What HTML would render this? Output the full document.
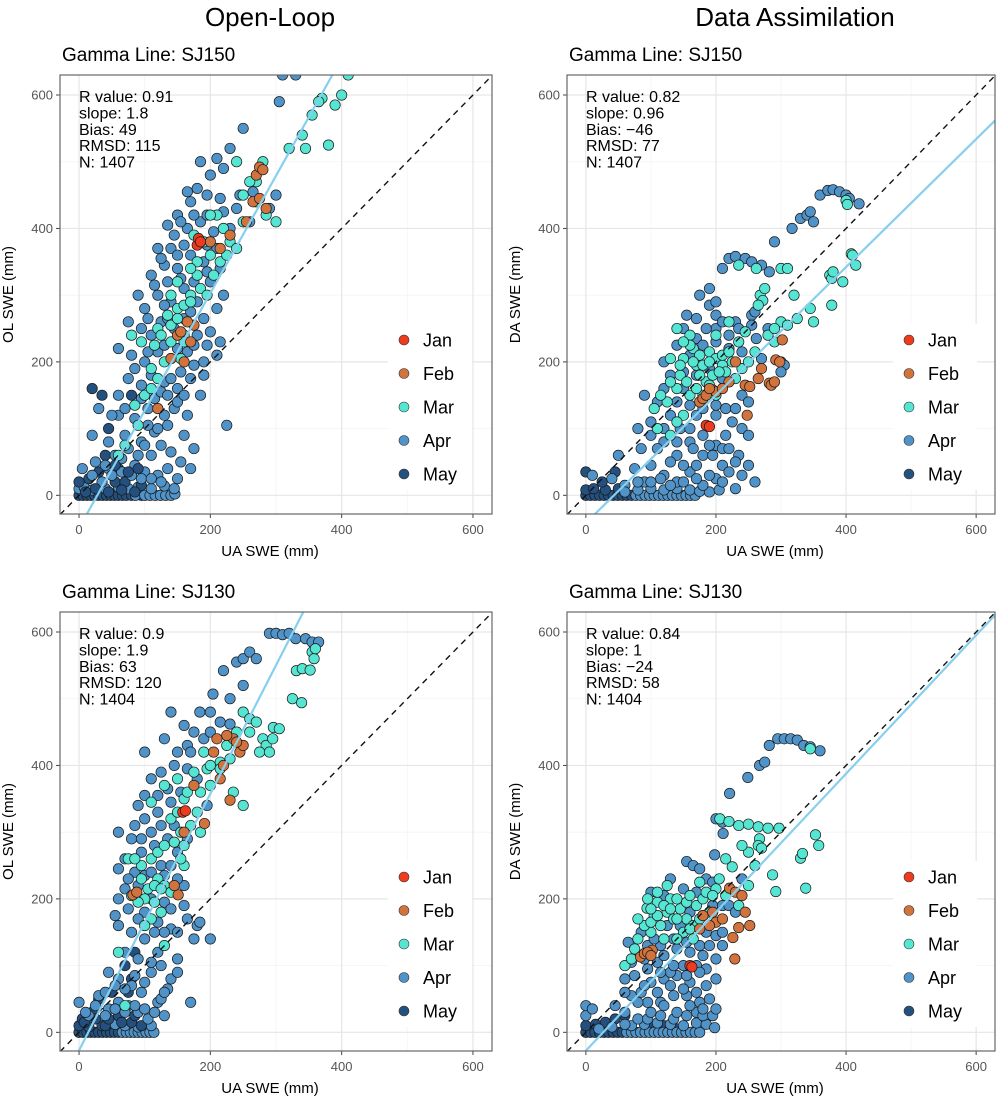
<!DOCTYPE html>
<html><head><meta charset="utf-8"><style>
html,body{margin:0;padding:0;background:#fff;}
svg{display:block;font-family:"Liberation Sans",sans-serif;}
</style></head><body>
<svg id="fig" width="1002" height="1098" viewBox="0 0 1002 1098" xmlns="http://www.w3.org/2000/svg">
<text x="270" y="26" font-size="26" text-anchor="middle">Open-Loop</text>
<text x="795" y="26" font-size="26" text-anchor="middle">Data Assimilation</text>
</svg>
<script>
const months = ["Jan","Feb","Mar","Apr","May"];
const monthColors = ["#ee3b1d","#d2733d","#55e6d3","#4f93c8","#23507e"];
const xTicks = [0,200,400,600];
const yTicks = [0,200,400,600];
const panelTitles = ["Gamma Line: SJ150","Gamma Line: SJ150","Gamma Line: SJ130","Gamma Line: SJ130"];
const yTitles = ["OL SWE (mm)","DA SWE (mm)","OL SWE (mm)","DA SWE (mm)"];
const statsTL = ["R  value: 0.91","slope: 1.8","Bias: 49","RMSD: 115","N: 1407"];
const statsTR = ["R  value: 0.82","slope: 0.96","Bias: \u221246","RMSD: 77","N: 1407"];
const statsBL = ["R  value: 0.9","slope: 1.9","Bias: 63","RMSD: 120","N: 1404"];
const statsBR = ["R  value: 0.84","slope: 1","Bias: \u221224","RMSD: 58","N: 1404"];
const regSlopes = [1.76,0.959,1.924,1.038];
const regIntercepts = [-49,-41.5,-27.1,-27.6];

const tlPts = [
[0,0,5],[6,0,5],[12,0,5],[18,0,5],[24,0,5],[30,0,5],[36,0,5],[42,0,5],[48,0,5],[54,0,5],[60,0,5],[66,0,5],[72,0,5],[80,0,5],[95,0,5],
[86,0,4],[100,0,4],[108,0,4],[116,0,4],[124,0,4],[132,0,4],[140,0,4],[146,2,4],[0,10,4],[8,12,4],[20,8,4],[40,10,4],[60,12,4],[75,10,4],[90,12,4],[110,10,4],[130,14,4],[145,10,4],
[0,20,5],[15,25,5],[30,35,5],[55,20,5],[70,20,5],[95,15,5],[45,100,5],[20,160,5],[35,150,5],[80,150,5],[40,60,5],[60,40,5],
[5,40,4],[25,50,4],[45,40,4],[65,55,4],[85,45,4],[100,35,4],[120,30,4],[135,40,4],[150,25,4],[110,60,4],[125,75,4],[140,65,4],[155,50,4],[170,40,4],[20,90,4],[45,80,4],[70,90,4],[95,80,4],[115,95,4],[135,105,4],[160,90,4],[175,70,4],[165,120,4],[225,105,4],[30,130,4],[60,120,4],[85,115,4],[105,130,4],[145,130,4],[185,150,4],[190,180,4],
[60,150,4],[75,175,4],[95,165,4],[110,180,4],[130,170,4],[150,160,4],[170,175,4],[80,210,4],[100,200,4],[120,215,4],[140,205,4],[165,215,4],[190,200,4],[210,210,4],[95,250,4],[110,240,4],[125,260,4],[145,250,4],[160,265,4],[180,240,4],[200,245,4],[215,230,4],[100,280,4],[120,300,4],[140,290,4],[160,310,4],[180,290,4],[200,320,4],[220,300,4],[110,330,4],[130,345,4],[150,340,4],[170,360,4],[190,350,4],[210,370,4],[120,370,4],[145,390,4],[165,400,4],[185,410,4],[205,395,4],[230,400,4],[150,420,4],[170,440,4],[195,450,4],[215,445,4],[240,430,4],[260,410,4],[290,430,4],[300,450,4],[185,500,4],[210,505,4],[230,520,4],[250,550,4],[305,590,4],[310,630,4],[330,630,4],[275,640,4],[90,300,4],[75,260,4],[60,220,4],
[20,30,4],[35,20,4],[50,30,4],[65,35,4],[80,30,4],[95,25,4],[110,25,4],[125,20,4],[40,45,4],[55,60,4],[75,70,4],[90,60,4],[100,75,4],[105,105,4],[120,100,4],[130,120,4],[115,145,4],[125,155,4],[135,150,4],[150,140,4],[160,150,4],[140,175,4],[155,185,4],[175,195,4],[85,190,4],[105,215,4],[130,225,4],[150,220,4],[175,225,4],[195,225,4],[105,265,4],[135,265,4],[170,275,4],[190,265,4],[210,280,4],[115,315,4],[135,320,4],[155,325,4],[175,320,4],[195,335,4],[215,340,4],[125,355,4],[140,370,4],[160,375,4],[195,375,4],[135,405,4],[155,410,4],[175,420,4],[195,420,4],[220,425,4],[165,455,4],[180,460,4],[245,450,4],[265,455,4],[200,480,4],[220,490,4],[150,360,4],[130,285,4],[95,145,4],[70,130,4],[50,120,4],
[10,5,5],[25,10,5],[45,5,5],[65,8,5],[85,5,5],[55,45,5],[75,35,5],[90,40,5],
[70,75,3],[90,105,3],[100,150,3],[110,190,3],[80,240,3],[120,250,3],[135,270,3],[140,230,3],[150,280,3],[160,240,3],[170,300,3],[180,330,3],[190,380,3],[200,360,3],[175,390,3],[210,420,3],[220,400,3],[230,380,3],[250,410,3],[270,440,3],[285,420,3],[300,410,3],[270,470,3],[240,500,3],[280,500,3],[320,520,3],[340,540,3],[345,520,3],[355,570,3],[370,595,3],[365,590,3],[390,585,3],[400,600,3],[410,630,3],[380,525,3],[130,200,3],[95,230,3],[155,205,3],[120,175,3],[60,60,3],
[115,225,3],[125,240,3],[140,255,3],[150,265,3],[160,285,3],[170,290,3],[185,310,3],[195,300,3],[205,330,3],[215,350,3],[225,360,3],[240,370,3],[180,350,3],[150,320,3],[170,340,3],[250,450,3],[260,470,3],[200,420,3],[110,160,3],[85,135,3],[140,300,3],[160,230,3],
[150,240,2],[155,245,2],[140,205,2],[170,230,2],[175,255,2],[165,260,2],[200,380,2],[215,370,2],[230,390,2],[270,480,2],[275,492,2],[280,488,2],[265,440,2],[275,445,2],[285,430,2],[255,410,2],[120,130,2],[160,200,2],
[180,375,1],[182,385,1],[185,380,1]
];
const trPts = [
[0,0,5],[7,0,5],[14,0,5],[21,0,5],[28,0,5],[35,0,5],[42,0,5],[49,0,5],[56,0,5],[63,0,5],[70,0,5],[0,8,5],[12,10,5],[30,8,5],[50,10,5],[0,35,5],[25,20,5],[45,35,5],
[77,0,4],[84,0,4],[91,0,4],[98,0,4],[105,0,4],[112,0,4],[119,0,4],[126,0,4],[133,0,4],[140,0,4],[147,0,4],[154,0,4],[161,0,4],[168,0,4],[80,8,4],[100,10,4],[120,8,4],[140,10,4],[160,8,4],[175,6,4],[190,5,4],[205,8,4],
[10,30,4],[40,25,4],[60,15,4],[75,40,4],[50,60,4],[90,20,4],[100,45,4],[120,30,4],[140,20,4],[160,35,4],[180,15,4],[200,25,4],[210,45,4],[230,10,4],[240,30,4],[180,60,4],[200,75,4],[160,80,4],[140,60,4],[120,80,4],[100,90,4],[85,70,4],[215,90,4],[225,110,4],[240,100,4],[250,90,4],[200,120,4],[170,120,4],[130,120,4],[110,140,4],[90,150,4],[145,100,4],[260,20,4],[235,60,4],
[60,5,4],[80,20,4],[100,20,4],[115,25,4],[130,15,4],[150,20,4],[170,25,4],[190,30,4],[210,20,4],[220,35,4],[230,50,4],[250,45,4],[110,70,4],[130,50,4],[150,45,4],[170,45,4],[190,75,4],[210,70,4],[220,70,4],[180,90,4],[160,100,4],[140,80,4],[120,100,4],[100,110,4],[80,100,4],[120,160,4],[140,140,4],[160,135,4],[180,130,4],[200,135,4],[215,130,4],[230,130,4],[240,150,4],[250,140,4],[150,185,4],[120,200,4],[140,225,4],[170,235,4],[200,250,4],[220,240,4],[230,260,4],[200,270,4],[185,250,4],[155,270,4],[255,270,4],[260,275,4],[280,250,4],[195,60,4],[165,70,4],
[150,160,4],[170,180,4],[190,190,4],[210,175,4],[130,180,4],[160,210,4],[180,225,4],[200,230,4],[220,220,4],[240,215,4],[235,250,4],[210,260,4],[150,250,4],[170,265,4],[190,285,4],[175,300,4],[190,310,4],[200,290,4],[255,255,4],[262,235,4],[300,200,4],[305,195,4],[300,185,4],[270,205,4],
[210,340,4],[220,355,4],[230,358,4],[245,355,4],[255,350,4],[270,345,4],[282,335,4],[290,380,4],[317,400,4],[330,415,4],[340,420,4],[345,425,4],[360,450,4],[372,457,4],[380,458,4],[390,455,4],[400,450,4],[405,445,4],[420,437,4],[350,410,4],
[235,345,3],[262,340,3],[268,300,3],[272,292,3],[265,285,3],[275,310,3],[300,340,3],[310,340,3],[320,300,3],[345,280,3],[350,260,3],[325,265,3],[375,330,3],[378,325,3],[380,335,3],[408,362,3],[410,360,3],[415,345,3],[395,320,3],[400,442,3],[402,436,3],[378,285,3],[140,250,3],[160,240,3],[165,220,3],[175,210,3],[190,215,3],[200,205,3],[210,195,3],[225,200,3],[240,190,3],[150,205,3],[170,195,3],[185,170,3],[195,180,3],[215,185,3],[230,175,3],[160,150,3],[180,150,3],[200,150,3],[140,160,3],[125,140,3],[150,120,3],[110,100,3],[130,90,3],[250,200,3],[260,215,3],[290,230,3],[300,260,3],
[130,170,3],[145,180,3],[155,170,3],[165,200,3],[175,180,3],[180,195,3],[190,200,3],[205,185,3],[170,160,3],[190,165,3],[210,210,3],[220,215,3],[235,230,3],[245,245,3],[160,225,3],[150,230,3],[130,205,3],[115,150,3],[105,130,3],[140,110,3],[200,240,3],[280,240,3],[290,250,3],[310,255,3],[145,195,3],[220,260,3],
[175,140,2],[180,145,2],[195,158,2],[200,155,2],[220,170,2],[245,165,2],[252,163,2],[282,168,2],[292,203,2],[298,200,2],[302,233,2],[248,120,2],[270,190,2],[265,175,2],
[185,150,2],[190,160,2],[210,160,2],[230,200,2],[285,165,2],[290,170,2],
[185,105,1],[190,103,1]
];
const blPts = [
[0,0,5],[6,0,5],[12,0,5],[18,0,5],[24,0,5],[30,0,5],[36,0,5],[42,0,5],[48,0,5],[54,0,5],[60,0,5],[0,10,5],[15,8,5],[35,10,5],
[66,0,4],[72,0,4],[78,0,4],[84,0,4],[90,0,4],[96,0,4],[102,0,4],[108,0,4],[114,0,4],[70,10,4],[90,8,4],[110,10,4],[55,12,4],
[5,20,5],[20,30,5],[40,10,5],[60,25,5],[80,15,5],[50,60,5],[70,100,5],[85,120,5],[30,50,5],
[8,15,5],[25,20,5],[45,20,5],[65,15,5],[85,25,5],[95,10,5],[75,60,5],[80,80,5],
[0,45,4],[15,25,4],[30,55,4],[45,35,4],[60,45,4],[75,40,4],[90,30,4],[105,20,4],[120,45,4],[135,65,4],[110,90,4],[130,25,4],[95,60,4],[80,70,4],[60,80,4],[45,90,4],[70,120,4],[90,110,4],[100,140,4],[80,150,4],[60,160,4],[100,180,4],[55,175,4],[120,165,4],[140,155,4],[150,150,4],[165,170,4],[180,160,4],[200,140,4],[170,45,4],[184,165,4],[150,110,4],[140,80,4],[120,120,4],
[10,30,4],[25,40,4],[40,25,4],[55,35,4],[70,30,4],[85,40,4],[100,35,4],[115,30,4],[125,50,4],[40,60,4],[55,70,4],[70,65,4],[85,85,4],[100,75,4],[110,105,4],[125,100,4],[130,150,4],[115,150,4],[90,170,4],[75,185,4],[110,200,4],[130,195,4],[140,185,4],[70,215,4],[85,240,4],[100,235,4],[125,250,4],[140,250,4],[160,220,4],[60,245,4],[80,290,4],[95,290,4],[110,300,4],[125,310,4],[145,310,4],[90,340,4],[100,355,4],[120,355,4],[135,365,4],[150,420,4],[165,430,4],[175,450,4],[160,460,4],[200,480,4],[230,500,4],[250,520,4],[160,190,4],[175,140,4],[150,90,4],[130,60,4],
[60,200,4],[75,230,4],[90,220,4],[110,240,4],[130,235,4],[150,230,4],[70,260,4],[95,270,4],[115,280,4],[135,290,4],[150,270,4],[85,310,4],[100,320,4],[120,330,4],[140,345,4],[155,360,4],[110,380,4],[125,390,4],[145,400,4],[165,395,4],[170,420,4],[190,440,4],[200,450,4],[215,465,4],[230,462,4],[184,480,4],[204,507,4],[220,542,4],[240,555,4],[250,560,4],[260,570,4],[270,560,4],[290,598,4],[300,598,4],[310,596,4],[320,598,4],[330,590,4],[345,590,4],[355,585,4],[365,585,4],[140,480,4],[100,420,4],[130,440,4],[60,300,4],[180,380,4],[195,340,4],[165,290,4],
[75,260,3],[95,250,3],[110,260,3],[120,230,3],[130,220,3],[140,210,3],[100,200,3],[115,195,3],[125,180,3],[140,320,3],[155,300,3],[170,310,3],[180,330,3],[185,300,3],[160,250,3],[110,345,3],[130,370,3],[150,380,3],[175,390,3],[195,395,3],[200,400,3],[215,405,3],[190,420,3],[250,480,3],[260,470,3],[270,465,3],[280,440,3],[285,430,3],[275,420,3],[296,457,3],[305,455,3],[325,500,3],[339,494,3],[331,542,3],[340,545,3],[352,543,3],[355,570,3],[358,560,3],[360,575,3],[160,350,3],[60,120,3],[70,40,3],[130,130,3],[235,360,3],[250,340,3],
[80,205,3],[90,195,3],[105,215,3],[115,220,3],[125,215,3],[95,230,3],[85,260,3],[120,270,3],[130,280,3],[145,285,3],[155,260,3],[160,280,3],[150,330,3],[165,360,3],[185,360,3],[200,370,3],[215,395,3],[230,410,3],[225,430,3],[240,450,3],[260,450,3],[290,420,3],[295,440,3],[110,170,3],[100,160,3],
[82,206,2],[88,210,2],[151,206,2],[145,220,2],[191,313,2],[230,348,2],[235,440,2],[245,420,2],[250,430,2],[220,400,2],[205,420,2],[215,380,2],[175,370,2],
[210,440,2],[225,445,2],[240,435,2],[160,300,2],
[158,330,1],[162,332,1]
];
const brPts = [
[0,0,5],[7,0,5],[14,0,5],[21,0,5],[28,0,5],[35,0,5],[42,0,5],[49,0,5],[56,0,5],[0,10,5],[15,12,5],[30,15,5],[45,20,5],[60,25,5],[120,10,5],[140,5,5],[100,8,5],
[63,0,4],[70,0,4],[77,0,4],[84,0,4],[91,0,4],[98,0,4],[105,0,4],[112,0,4],[119,0,4],[126,0,4],[133,0,4],[140,0,4],[147,0,4],[154,0,4],[161,0,4],[168,0,4],[175,0,4],[0,25,4],[0,40,4],[10,35,4],[70,10,4],[90,12,4],[110,14,4],[130,12,4],[150,10,4],[170,14,4],[185,12,4],[198,7,4],
[20,5,4],[40,8,4],[60,12,4],[80,20,4],[95,20,4],[115,25,4],[135,20,4],[155,25,4],[170,30,4],[180,25,4],[195,25,4],[200,35,4],[175,45,4],[155,55,4],[135,55,4],[115,45,4],[95,45,4],[70,55,4],[85,60,4],[100,75,4],[120,80,4],[140,85,4],[160,75,4],[170,100,4],[150,100,4],[130,90,4],[110,105,4],[90,110,4],[70,105,4],[95,130,4],[115,130,4],[135,140,4],[155,135,4],[175,130,4],[185,150,4],[200,145,4],[210,130,4],[200,80,4],[185,95,4],[125,160,4],[145,160,4],[160,180,4],[180,175,4],[195,190,4],[210,190,4],[220,190,4],[230,180,4],[240,230,4],[60,60,4],[45,40,4],
[60,30,4],[80,45,4],[100,30,4],[120,40,4],[140,30,4],[160,40,4],[180,35,4],[190,50,4],[170,60,4],[150,65,4],[130,70,4],[110,60,4],[90,70,4],[75,85,4],[95,95,4],[115,90,4],[135,100,4],[155,85,4],[175,90,4],[185,70,4],[60,80,4],[80,115,4],[100,120,4],[120,115,4],[140,125,4],[160,120,4],[180,115,4],[200,110,4],[65,135,4],[85,150,4],[105,140,4],[190,130,4],[210,150,4],
[155,256,4],[165,250,4],[198,266,4],[211,298,4],[221,358,4],[249,382,4],[267,400,4],[275,405,4],[282,430,4],[295,440,4],[305,440,4],[315,440,4],[325,438,4],[335,430,4],[345,428,4],[360,422,4],[200,320,4],[210,315,4],[175,245,4],[185,230,4],[195,225,4],[120,205,4],[100,210,4],[130,230,4],[150,215,4],[170,210,4],
[206,320,3],[220,316,3],[235,310,3],[250,312,3],[265,308,3],[280,306,3],[297,306,3],[267,290,3],[265,280,3],[270,276,3],[250,270,3],[330,261,3],[333,268,3],[353,296,3],[358,280,3],[338,216,3],[292,211,3],[287,236,3],[260,250,3],[225,248,3],[250,220,3],[345,425,3],
[94,186,3],[105,175,3],[115,160,3],[125,180,3],[135,170,3],[145,185,3],[155,170,3],[165,160,3],[100,150,3],[110,195,3],[130,200,3],[150,150,3],[170,190,3],[180,200,3],[200,215,3],[215,205,3],[235,190,3],[190,180,3],[120,140,3],[140,140,3],[90,160,3],[165,140,3],[75,125,3],[60,100,3],
[100,165,3],[110,175,3],[120,190,3],[130,185,3],[140,200,3],[155,195,3],[160,205,3],[175,225,3],[185,210,3],[195,205,3],[205,230,3],[110,210,3],[95,200,3],[80,170,3],[100,185,3],[140,170,3],[160,155,3],[175,170,3],[80,140,3],[70,110,3],[215,260,3],[240,280,3],[125,220,3],
[221,216,2],[230,210,2],[240,205,2],[245,180,2],[252,160,2],[235,157,2],[226,142,2],[229,110,2],[84,113,2],[90,118,2],[102,123,2],[200,165,2],[210,170,2],[190,160,2],[175,155,2],
[95,120,2],[100,115,2],[180,175,2],[195,180,2],
[160,100,1],[163,98,1]
];

const NS = "http://www.w3.org/2000/svg";
const svg = document.getElementById("fig");
function mk(tag, attrs, parent){
  const e = document.createElementNS(NS, tag);
  for (const k in attrs) e.setAttribute(k, attrs[k]);
  (parent||svg).appendChild(e);
  return e;
}
const XMIN=-29, XMAX=629, YMIN=-28, YMAX=630;
const panels = [
  {id:"tl", left:60, top:75, w:432, h:439, pts:tlPts, stats:statsTL},
  {id:"tr", left:567, top:75, w:428, h:439, pts:trPts, stats:statsTR},
  {id:"bl", left:60, top:612, w:432, h:439, pts:blPts, stats:statsBL},
  {id:"br", left:567, top:612, w:428, h:439, pts:brPts, stats:statsBR}
];
panels.forEach((p, i) => {
  const sx = v => p.left + (v - XMIN) / (XMAX - XMIN) * p.w;
  const sy = v => p.top + p.h - (v - YMIN) / (YMAX - YMIN) * p.h;
  const g = mk("g", {});
  
  
  const cp = mk("clipPath", {id:"clip-"+p.id}, g);
  mk("rect", {x:p.left, y:p.top, width:p.w, height:p.h}, cp);
  const t = mk("text", {x:p.left+2, y:p.top-14, "font-size":19}, g);
  t.textContent = panelTitles[i];
  
  
  [100,300,500].forEach(v => {
    mk("line", {x1:sx(v), x2:sx(v), y1:p.top, y2:p.top+p.h, stroke:"#f4f4f4", "stroke-width":0.8}, g);
    mk("line", {y1:sy(v), y2:sy(v), x1:p.left, x2:p.left+p.w, stroke:"#f4f4f4", "stroke-width":0.8}, g);
  });
  xTicks.forEach(v => {
    mk("line", {x1:sx(v), x2:sx(v), y1:p.top, y2:p.top+p.h, stroke:"#e6e6e6", "stroke-width":1.2}, g);
    mk("line", {x1:sx(v), x2:sx(v), y1:p.top+p.h, y2:p.top+p.h+4, stroke:"#444", "stroke-width":1}, g);
    const tx = mk("text", {x:sx(v), y:p.top+p.h+20, "font-size":13, fill:"#555", "text-anchor":"middle"}, g);
    tx.textContent = v;
    
    
  });
  yTicks.forEach(v => {
    mk("line", {y1:sy(v), y2:sy(v), x1:p.left, x2:p.left+p.w, stroke:"#e6e6e6", "stroke-width":1.2}, g);
    mk("line", {y1:sy(v), y2:sy(v), x1:p.left-4, x2:p.left, stroke:"#444", "stroke-width":1}, g);
    const ty = mk("text", {x:p.left-7, y:sy(v)+4.5, "font-size":13, fill:"#555", "text-anchor":"end"}, g);
    ty.textContent = v;
    
    
  });
  const pg = mk("g", {"clip-path":"url(#clip-"+p.id+")"}, g);
  
  
  p.pts.forEach(d => {
    const c = mk("circle", {cx:sx(d[0]), cy:sy(d[1]), r:5.2, fill:monthColors[d[2]-1], stroke:"#1a1a1a", "stroke-width":0.7}, pg);
    
    
  });
  const lg = mk("g", {"clip-path":"url(#clip-"+p.id+")"}, g);
  const one = mk("line", {x1:sx(XMIN), y1:sy(XMIN), x2:sx(XMAX), y2:sy(XMAX), stroke:"#111", "stroke-width":1.4, "stroke-dasharray":"6,5"}, lg);
  
  
  const a = regSlopes[i], b = regIntercepts[i];
  const reg = mk("line", {x1:sx(XMIN), y1:sy(a*XMIN+b), x2:sx(XMAX), y2:sy(a*XMAX+b), stroke:"#86cfee", "stroke-width":2.2}, lg);
  
  
  const st = mk("text", {x:p.left+19, y:p.top+27, "font-size":16}, g);
  
  
  p.stats.forEach((s, k) => {
    const ts = mk("tspan", {x:p.left+19, y:p.top+27+k*16.4}, st);
    ts.textContent = s;
  });
  const lx = p.left + p.w - 88 + (p.id==="tr"||p.id==="br" ? 2 : 0);
  const lgd = mk("g", {}, g);
  
  
  const ly0 = p.top + 265;
  mk("rect", {x:lx-16, y:ly0-16, width:84, height:166, fill:"#fff"}, lgd);
  months.forEach((m, k) => {
    const ent = mk("g", {}, lgd);
    
    
    mk("circle", {cx:lx, cy:ly0+k*33.5, r:5, fill:monthColors[k], stroke:"#333", "stroke-width":0.6}, ent);
    const lt = mk("text", {x:lx+19, y:ly0+k*33.5+6.5, "font-size":18}, ent);
    lt.textContent = m;
  });
  mk("rect", {x:p.left, y:p.top, width:p.w, height:p.h, fill:"none", stroke:"#666", "stroke-width":1.2}, g);
  const xt = mk("text", {x:p.left+p.w/2-6, y:p.top+p.h+42, "font-size":15, "text-anchor":"middle"}, g);
  xt.textContent = "UA SWE (mm)";
  
  
  const yx = p.left - 47, yy = p.top + p.h/2;
  const yt = mk("text", {x:yx, y:yy, "font-size":15, "text-anchor":"middle", transform:"rotate(-90 "+yx+" "+yy+")"}, g);
  yt.textContent = yTitles[i];
  
  
});
</script>
</body></html>
